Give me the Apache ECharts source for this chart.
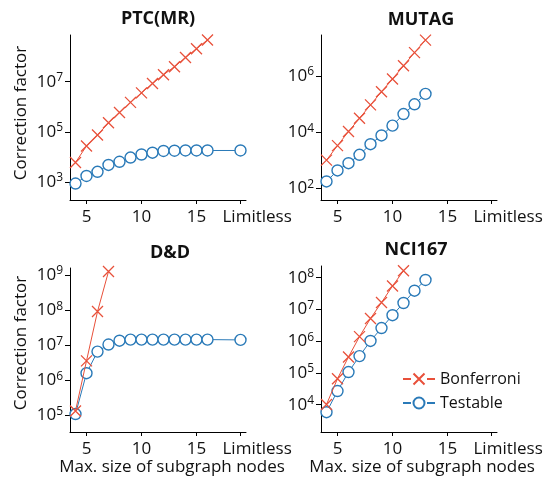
<!DOCTYPE html>
<html><head><meta charset="utf-8">
<script src="https://cdn.jsdelivr.net/npm/echarts@6/dist/echarts.min.js"></script>
<style>html,body{margin:0;padding:0;background:#fff}#c{width:547px;height:479px}</style>
</head><body><div id="c"></div>
<script>
// x categories: max. size of subgraph nodes
const xCategories = ['4','5','6','7','8','9','10','11','12','13','14','15','16','17','18','Limitless'];
const xTickLabels = ['5', '10', '15', 'Limitless'];

// PTC(MR)
const ptcSizes = ['4','5','6','7','8','9','10','11','12','13','14','15','16'];
const ptcBonferroni = [5.9e3,2.7e4,7.4e4,2.3e5,5.9e5,1.5e6,3.6e6,8.5e6,1.9e7,4.0e7,9.3e7,2.1e8,4.7e8];
const ptcTestSizes = ['4','5','6','7','8','9','10','11','12','13','14','15','16','Limitless'];
const ptcTestable = [8.5e2,1.7e3,2.5e3,4.7e3,6.3e3,9.3e3,1.23e4,1.45e4,1.7e4,1.74e4,1.78e4,1.78e4,1.78e4,1.78e4];
const ptcYTicks = [3,5,7];

// MUTAG
const mutSizes = ['4','5','6','7','8','9','10','11','12','13'];
const mutBonferroni = [1.0e3,3.3e3,1.05e4,3.1e4,9.3e4,2.75e5,7.8e5,2.3e6,6.8e6,1.9e7];
const mutTestable = [1.74e2,4.3e2,7.8e2,1.55e3,3.7e3,7.6e3,1.7e4,4.4e4,9.8e4,2.3e5];
const mutYTicks = [2,4,6];

// D&D
const ddBonfSizes = ['4','5','6','7'];
const ddBonferroni = [1.35e5,3.6e6,9.1e7,1.26e9];
const ddTestSizes = ['4','5','6','7','8','9','10','11','12','13','14','15','16','Limitless'];
const ddTestable = [1.1e5,1.6e6,6.6e6,1.05e7,1.35e7,1.45e7,1.45e7,1.45e7,1.45e7,1.45e7,1.45e7,1.45e7,1.45e7,1.42e7];
const ddYTicks = [5,6,7,8,9];

// NCI167
const nciBonfSizes = ['4','5','6','7','8','9','10','11'];
const nciBonferroni = [1.02e4,6.6e4,3.2e5,1.4e6,5.2e6,1.66e7,5.5e7,1.66e8];
const nciTestSizes = ['4','5','6','7','8','9','10','11','12','13'];
const nciTestable = [5.8e3,2.7e4,1.07e5,3.4e5,1.02e6,2.6e6,6.6e6,1.6e7,3.9e7,8.5e7];
const nciYTicks = [4,5,6,7,8];

const titles = ['PTC(MR)', 'MUTAG', 'D&D', 'NCI167'];

const RED = '#e8503a', BLUE = '#2a7ab8';
const FONT = 'Open Sans';
const XSYM = 'path://M0,0L10,10M10,0L0,10';
const XICON = 'path://M0,6L8,6M10.5,0.5L21.5,11.5M21.5,0.5L10.5,11.5M24,6L32,6';
const OICON = 'path://M0,6L8,6M21.5,6A5.5,5.5 0 1 1 10.5,6A5.5,5.5 0 1 1 21.5,6ZM24,6L32,6';

function pairs(xs, vs) { return xs.map((x, i) => [x, Math.log10(vs[i])]); }

const grids = [
  {left: 70, top: 35, width: 176, height: 165},
  {left: 321, top: 35, width: 176, height: 165},
  {left: 70, top: 268, width: 176, height: 164},
  {left: 321, top: 266, width: 176, height: 166}
];
const yRanges = [[2.27, 8.87], [1.58, 7.46], [4.53, 9.2], [3.14, 8.37]];
const yTicks = [ptcYTicks, mutYTicks, ddYTicks, nciYTicks];

const showTick = (idx, val) => xTickLabels.indexOf(val) >= 0;
const axisLineStyle = {show: true, lineStyle: {color: '#000', width: 1}};
const xAxes = grids.map((g, i) => ({
  type: 'category', gridIndex: i, data: xCategories, boundaryGap: true,
  axisLine: axisLineStyle,
  axisTick: {show: true, length: 4, alignWithLabel: true, interval: showTick, lineStyle: {color: '#000'}},
  axisLabel: {interval: showTick, showMaxLabel: true, showMinLabel: true, hideOverlap: false,
    margin: 9, color: '#111', fontFamily: FONT, fontSize: 17,
    formatter: v => v === 'Limitless' ? '{l|' + v + '}' : v,
    rich: {l: {width: 36, align: 'left', fontFamily: FONT, fontSize: 17, color: '#111'}}},
  splitLine: {show: false}
}));
const yAxes = grids.map((g, i) => ({
  type: 'value', gridIndex: i, min: yRanges[i][0], max: yRanges[i][1],
  axisLine: axisLineStyle,
  axisTick: {show: true, length: 5, lineStyle: {color: '#000'}, customValues: yTicks[i]},
  axisLabel: {customValues: yTicks[i], margin: 7, color: '#111', fontFamily: FONT,
    formatter: v => '{b|10}{s|' + v + '}',
    rich: {b: {fontSize: 17, fontFamily: FONT, color: '#111', lineHeight: 20},
           s: {fontSize: 12, fontFamily: FONT, color: '#111', verticalAlign: 'top', lineHeight: 14}}},
  splitLine: {show: false}
}));

function bonf(i, xs, vs) {
  return {name: 'Bonferroni', type: 'line', xAxisIndex: i, yAxisIndex: i, data: pairs(xs, vs),
    symbol: XSYM, symbolSize: 11, showSymbol: true, showAllSymbol: true,
    lineStyle: {color: RED, width: 1}, itemStyle: {color: RED, borderColor: RED, borderWidth: 1.3},
    emphasis: {disabled: true}, z: 3};
}
function test(i, xs, vs) {
  return {name: 'Testable', type: 'line', xAxisIndex: i, yAxisIndex: i, data: pairs(xs, vs),
    symbol: 'circle', symbolSize: 11, showSymbol: true, showAllSymbol: true,
    lineStyle: {color: BLUE, width: 1}, itemStyle: {color: '#fff', borderColor: BLUE, borderWidth: 1.4},
    emphasis: {disabled: true}, z: 2};
}

const series = [
  bonf(0, ptcSizes, ptcBonferroni), test(0, ptcTestSizes, ptcTestable),
  bonf(1, mutSizes, mutBonferroni), test(1, mutSizes, mutTestable),
  bonf(2, ddBonfSizes, ddBonferroni), test(2, ddTestSizes, ddTestable),
  bonf(3, nciBonfSizes, nciBonferroni), test(3, nciTestSizes, nciTestable)
];

function txt(text, x, y, opts) {
  return Object.assign({type: 'text', x: x, y: y, silent: true,
    style: {text: text, fill: '#111', font: '17px "Open Sans"', textAlign: 'center', textVerticalAlign: 'middle'}}, opts || {});
}
const titlePos = [[158, 19], [421, 20], [170, 253], [416, 250]];
const graphic = [];
titles.forEach((t, i) => {
  const g = txt(t, titlePos[i][0], titlePos[i][1]);
  g.style.font = 'bold 18px "Open Sans"';
  graphic.push(g);
});
graphic.push(txt('Correction factor', 21, 113, {rotation: Math.PI / 2}));
graphic.push(txt('Correction factor', 21, 343, {rotation: Math.PI / 2}));
graphic.push(txt('Max. size of subgraph nodes', 172, 467));
graphic.push(txt('Max. size of subgraph nodes', 422, 467));

const chart = echarts.init(document.getElementById('c'), null, {renderer: 'canvas'});
chart.setOption({
  animation: false,
  grid: grids,
  xAxis: xAxes,
  yAxis: yAxes,
  series: series,
  legend: {data: [{name: 'Bonferroni', icon: XICON}, {name: 'Testable', icon: OICON}],
    orient: 'vertical', left: 397, top: 366,
    itemWidth: 32, itemHeight: 11, itemGap: 8,
    textStyle: {fontFamily: FONT, fontSize: 16, color: '#111'}},
  graphic: graphic
});
</script></body></html>
